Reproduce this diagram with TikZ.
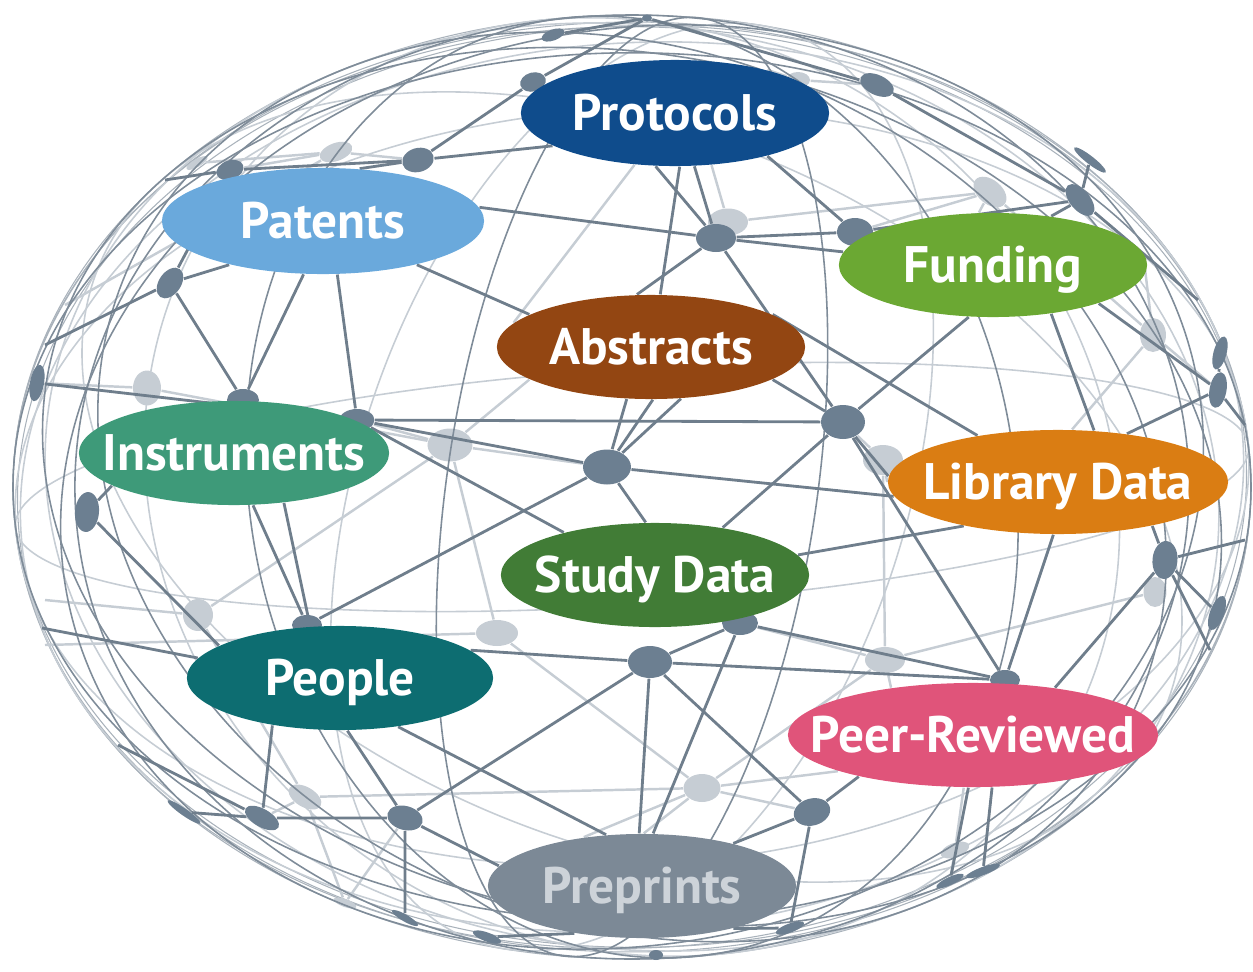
\documentclass[tikz,border=0pt]{standalone}
\usepackage{fontspec}
\newfontfamily\lblfont{PT Sans}
\usetikzlibrary{shapes.geometric}
\pgfdeclarelayer{back}
\pgfdeclarelayer{mid}
\pgfsetlayers{back,mid,main}
\definecolor{cProt}{HTML}{0F4C8C}
\definecolor{cPat}{HTML}{6AA9DC}
\definecolor{cFund}{HTML}{6BA833}
\definecolor{cAbs}{HTML}{934612}
\definecolor{cInst}{HTML}{3E9A79}
\definecolor{cLib}{HTML}{DA7D13}
\definecolor{cStudy}{HTML}{417C36}
\definecolor{cPeople}{HTML}{0D6D71}
\definecolor{cPeer}{HTML}{E0547A}
\definecolor{cPre}{HTML}{7C8996}
\definecolor{cPreTxt}{HTML}{CDD3D9}
\definecolor{dotdark}{HTML}{6C7F91}
\definecolor{linedark}{HTML}{6F7E8C}
\definecolor{curvedark}{HTML}{7F8C99}
\definecolor{lightgr}{HTML}{C6CDD4}
\definecolor{outlc}{HTML}{A9B2BB}
\begin{document}
\begin{tikzpicture}[x=0.01cm,y=-0.01cm,
  lbl/.style={ellipse, inner sep=0pt, text height=0.355cm, text depth=0pt, text=white,
    font=\lblfont\bfseries\fontsize{14.6}{15}\selectfont},
  dk/.style 2 args={ellipse, fill=dotdark, inner sep=0pt, minimum width=#1*0.01cm, minimum height=#2*0.01cm},
  lt/.style 2 args={ellipse, fill=lightgr, inner sep=0pt, minimum width=#1*0.01cm, minimum height=#2*0.01cm},
  dkl/.style={draw=linedark, line width=0.8pt},
  ltl/.style={draw=lightgr, line width=0.7pt},
  gcd/.style={draw=curvedark, line width=0.45pt},
  gcl/.style={draw=lightgr, line width=0.45pt},
  outl/.style={draw=outlc, line width=0.3pt}]
\useasboundingbox (0,0) rectangle (1253,972);

% ---------- globe: outline and great circles ----------
\begin{pgfonlayer}{back}
\begin{scope}[shift={(632,487)}, xscale=619, yscale=472]
  \draw[outl] (0,0) ellipse (1 and 1);
  \draw[outl, rotate=4] (0,0) ellipse (1 and 0.985);
  \draw[outl, rotate=-6] (0,0) ellipse (1 and 0.975);
  \draw[outl, rotate=30] (0,0) ellipse (1 and 0.97);
  \foreach \t/\b in {100/0.78, 78/0.45, 8/0.8, 25/0.93, -60/0.93, 140/0.7, 5/0.25}
    \draw[gcl, rotate=\t] (0,0) ellipse (1 and \b);
\end{scope}
\end{pgfonlayer}
\begin{pgfonlayer}{mid}
\begin{scope}[shift={(632,487)}, xscale=619, yscale=472]
  \foreach \t/\b in {90/0.9, 95/0.62, 84/0.3, 0/0.92, -40/0.88, 62/0.9, 118/0.82}
    \draw[gcd, rotate=\t] (0,0) ellipse (1 and \b);
\end{scope}
\end{pgfonlayer}

% ---------- light (back) dots ----------
\begin{pgfonlayer}{back}
\node[lt={40}{27}] (ld1) at (728,222) {};
\node[lt={38}{24}, rotate=-40] (ld2) at (990,192) {};
\node[lt={26}{34}] (ld3) at (1153,335) {};
\node[lt={40}{30}] (ld4) at (883,460) {};
\node[lt={45}{33}] (ld5) at (450,445) {};
\node[lt={28}{35}] (ld6) at (147,388) {};
\node[lt={30}{32}] (ld7) at (198,615) {};
\node[lt={42}{26}] (ld8) at (497,633) {};
\node[lt={23}{30}] (ld9) at (1155,592) {};
\node[lt={40}{26}] (ld10) at (885,660) {};
\node[lt={36}{20}, rotate=-30] (ld11) at (305,797) {};
\node[lt={37}{28}] (ld12) at (702,788) {};
\node[lt={34}{18}, rotate=20] (ld13) at (336,152) {};
\node[lt={24}{8}, rotate=30] (ld14) at (197,163) {};
\node[lt={24}{16}] (ld15) at (798,80) {};
\node[lt={30}{14}, rotate=20] (ld16) at (955,850) {};
\node[lt={24}{8}, rotate=-20] (ld17) at (345,903) {};
\end{pgfonlayer}

% ---------- dark dots ----------
\node[dk={10}{7}] (dd1) at (647,18) {};
\node[dk={26}{19}, rotate=15] (dd2) at (533,82) {};
\node[dk={24}{11}, rotate=20] (dd3) at (553,35) {};
\node[dk={32}{24}, rotate=15] (dd4) at (418,160) {};
\node[dk={28}{19}, rotate=20] (dd5) at (230,170) {};
\node[dk={34}{22}, rotate=55] (dd6) at (170,283) {};
\node[dk={40}{28}] (dd7) at (716,238) {};
\node[dk={36}{28}] (dd8) at (855,232) {};
\node[dk={36}{20}, rotate=-25] (dd9) at (877,85) {};
\node[dk={38}{20}, rotate=-50] (dd11) at (1080,200) {};
\node[dk={40}{8}, rotate=-38] (dd12) at (1090,160) {};
\node[dk={34}{13}, rotate=75] (dd14) at (1220,353) {};
\node[dk={36}{17}, rotate=80] (dd15) at (1218,390) {};
\node[dk={44}{34}] (dd16) at (843,422) {};
\node[dk={48}{35}] (dd18) at (607,467) {};
\node[dk={35}{22}] (dd20) at (357,420) {};
\node[dk={32}{22}] (dd21) at (243,400) {};
\node[dk={37}{14}, rotate=80] (dd23) at (37,383) {};
\node[dk={40}{24}, rotate=85] (dd24) at (87,512) {};
\node[dk={30}{20}] (dd26) at (307,625) {};
\node[dk={44}{32}] (dd28) at (650,662) {};
\node[dk={36}{24}] (dd29) at (740,623) {};
\node[dk={38}{25}, rotate=85] (dd30) at (1165,560) {};
\node[dk={36}{14}, rotate=70] (dd32) at (1217,613) {};
\node[dk={30}{20}] (dd34) at (1005,680) {};
\node[dk={38}{18}, rotate=-30] (dd36) at (262,818) {};
\node[dk={36}{24}, rotate=-15] (dd37) at (405,818) {};
\node[dk={37}{27}, rotate=15] (dd39) at (812,812) {};
\node[dk={30}{9}, rotate=-20] (dd40) at (487,937) {};
\node[dk={14}{10}] (dd41) at (656,955) {};
\node[dk={30}{9}, rotate=20] (dd42) at (790,928) {};
\node[dk={30}{8}, rotate=25] (dd43) at (950,881) {};
\node[dk={36}{8}, rotate=20] (dd44) at (983,871) {};
\node[dk={40}{7}, rotate=-35] (dd45) at (184,812) {};
\node[dk={30}{7}, rotate=-30] (dd46) at (405,918) {};

% ---------- free ends on the rim ----------
\coordinate (eA) at (165,180);
\coordinate (eB) at (45,345);
\coordinate (eB2) at (65,305);
\coordinate (eC) at (42,628);
\coordinate (eD) at (45,645);
\coordinate (eE) at (1245,540);
\coordinate (eF) at (1210,650);
\coordinate (eG) at (1245,425);
\coordinate (eH) at (1198,300);
\coordinate (eI) at (118,745);
\coordinate (eJ) at (45,600);

% ---------- labelled ellipses ----------
\node[lbl, fill=cProt, minimum width=3.08cm, minimum height=1.06cm] (Protocols) at (675,113) {\makebox[0pt]{Protocols}};
\node[lbl, fill=cPat, minimum width=3.22cm, minimum height=1.06cm] (Patents) at (323,221) {\makebox[0pt]{Patents}};
\node[lbl, fill=cFund, minimum width=3.08cm, minimum height=1.04cm] (Funding) at (993,265) {\makebox[0pt]{Funding}};
\node[lbl, fill=cAbs, minimum width=3.08cm, minimum height=1.04cm] (Abstracts) at (651,347) {\makebox[0pt]{Abstracts}};
\node[lbl, fill=cInst, minimum width=3.10cm, minimum height=1.04cm] (Instruments) at (234,453) {\makebox[0pt]{Instruments}};
\node[lbl, fill=cLib, minimum width=3.40cm, minimum height=1.04cm] (LibraryData) at (1058,482) {\makebox[0pt]{Library Data}};
\node[lbl, fill=cStudy, minimum width=3.08cm, minimum height=1.04cm] (StudyData) at (655,575) {\makebox[0pt]{Study Data}};
\node[lbl, fill=cPeople, minimum width=3.06cm, minimum height=1.04cm] (People) at (340,678) {\makebox[0pt]{People}};
\node[lbl, fill=cPeer, minimum width=3.70cm, minimum height=1.04cm] (PeerReviewed) at (973,735) {\makebox[0pt]{Peer-Reviewed}};
\node[lbl, fill=cPre, text=cPreTxt, minimum width=3.08cm, minimum height=1.04cm] (Preprints) at (642,886) {\makebox[0pt]{Preprints}};

% ---------- light network lines ----------
\begin{pgfonlayer}{back}
\foreach \a/\b in {ld5/ld6, ld5/dd18, ld5/Abstracts.195, ld5/ld8, ld5/dd20, ld6/dd23,
  eB2/ld13, ld7/ld5, ld7/ld11, ld7/eJ, ld8/ld12, ld12/PeerReviewed.195, ld12/dd39,
  ld12/Preprints.88, ld12/Preprints.140, ld10/dd29, ld10/PeerReviewed.150, ld10/ld12,
  ld4/dd16, ld4/LibraryData.180, ld4/ld10, ld1/ld2, ld1/Protocols.305, ld2/dd8,
  ld2/Funding.105, ld2/ld3, ld3/Funding.5, ld3/dd15, ld3/LibraryData.75, ld9/dd30,
  ld9/ld10, ld11/dd36, ld11/ld12, ld13/dd4, ld13/dd5, ld15/Protocols.25, ld15/dd9,
  ld16/dd43, ld16/PeerReviewed.260, eD/ld8, Protocols.232/Abstracts.170, ld14/ld13,
  ld17/dd37, ld17/ld11}
  \draw[ltl] (\a) -- (\b);
\end{pgfonlayer}

% ---------- dark network lines ----------
\begin{pgfonlayer}{mid}
\foreach \a/\b in {dd5/dd4, dd4/Protocols.195, dd4/dd2, dd2/dd1, dd3/dd1, dd1/dd9,
  eA/dd5, dd5/dd6, dd6/eB, dd6/Patents.205, dd6/dd21, Patents.250/dd21,
  Patents.285/dd20, Patents.5/dd7, Patents.335/Abstracts.165, dd4/Patents.55,
  Protocols.275/Abstracts.80, dd7/Abstracts.105, Protocols.250/dd7, Protocols.290/dd7,
  dd7/dd8, dd7/Funding.175, dd7/dd16, Protocols.335/dd8, dd9/dd11, dd8/dd11,
  dd11/eH, dd11/dd12, dd11/Funding.40, Funding.340/dd15, Funding.320/LibraryData.55,
  Funding.245/dd16, Abstracts.15/LibraryData.150, Abstracts.345/dd16,
  dd16/LibraryData.178, dd16/dd34, dd16/StudyData.35, dd20/dd16, dd23/dd20,
  dd20/dd18, dd18/LibraryData.185, dd18/Abstracts.245, dd18/Abstracts.272,
  dd18/Abstracts.300, dd18/StudyData.100, dd18/dd26, dd20/StudyData.155,
  Instruments.290/dd26, Instruments.315/People.120, dd24/Instruments.195,
  dd24/People.165, eC/People.172, People.12/dd28, dd28/dd34, dd28/Preprints.93,
  dd28/dd39, dd28/dd37, dd28/dd29, dd29/Preprints.78, dd29/dd34,
  StudyData.8/LibraryData.205, dd37/People.278, dd37/Preprints.172,
  People.320/Preprints.125, dd36/dd37, dd36/People.215, dd36/eI,
  dd39/PeerReviewed.200, dd39/Preprints.25, dd39/dd42, dd30/LibraryData.335,
  dd30/eE, dd30/dd32, dd30/eF, dd30/PeerReviewed.30, LibraryData.265/dd34,
  dd15/LibraryData.35, dd14/dd15, dd15/eG, dd40/Preprints.215, dd42/Preprints.335,
  dd43/PeerReviewed.265, dd44/PeerReviewed.290, dd45/dd36, dd46/dd37}
  \draw[dkl] (\a) -- (\b);
\end{pgfonlayer}
\end{tikzpicture}
\end{document}
